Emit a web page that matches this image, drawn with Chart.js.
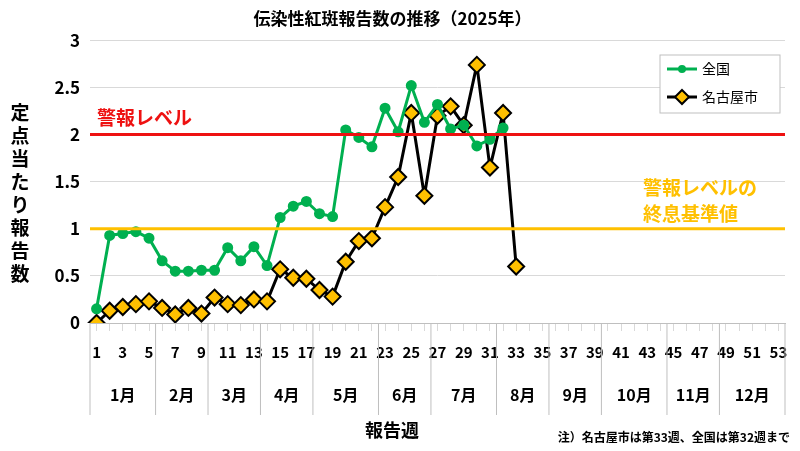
<!DOCTYPE html>
<html><head><meta charset="utf-8">
<script src="https://cdn.jsdelivr.net/npm/chart.js@4"></script>
<style>body{margin:0;background:#fff}#wrap{width:800px;height:451px}</style>
</head><body><div id="wrap"><canvas id="c"></canvas></div>
<script>
const weeks = Array.from({length: 53}, (_, i) => String(i + 1));
const national = [0.15,0.93,0.95,0.97,0.9,0.66,0.55,0.55,0.56,0.56,0.8,0.66,0.81,0.61,1.12,1.24,1.29,1.16,1.13,2.05,1.97,1.87,2.28,2.03,2.52,2.13,2.32,2.06,2.1,1.88,1.95,2.07];
const nagoya = [0,0.13,0.17,0.2,0.23,0.16,0.09,0.16,0.1,0.27,0.2,0.19,0.25,0.23,0.57,0.48,0.47,0.35,0.28,0.65,0.87,0.9,1.23,1.55,2.23,1.35,2.2,2.3,2.1,2.74,1.65,2.23,0.6];
const months = ["1月","2月","3月","4月","5月","6月","7月","8月","9月","10月","11月","12月"];
const monthEdges = [0.5,5.5,9.5,13.5,17.5,22.5,26.5,31.5,35.5,39.5,44.5,48.5,53.5];
const alarmLevel = 2, endLevel = 1;
const font = '"Noto Sans CJK JP", sans-serif';

const extras = {
  id: "extras",
  afterDatasetsDraw(chart) {
    const {ctx, chartArea: a, scales: {x, y}} = chart;
    ctx.save();
    // reference lines
    ctx.lineWidth = 3;
    ctx.strokeStyle = "#ee1111";
    ctx.beginPath(); ctx.moveTo(a.left, y.getPixelForValue(alarmLevel)); ctx.lineTo(a.right, y.getPixelForValue(alarmLevel)); ctx.stroke();
    ctx.strokeStyle = "#ffc000";
    ctx.beginPath(); ctx.moveTo(a.left, y.getPixelForValue(endLevel)); ctx.lineTo(a.right, y.getPixelForValue(endLevel)); ctx.stroke();
    ctx.font = "bold 19px " + font;
    ctx.fillStyle = "#ee1111"; ctx.textBaseline = "alphabetic";
    ctx.fillText("警報レベル", 97, 125);
    ctx.fillStyle = "#ffc000";
    ctx.fillText("警報レベルの", 643, 195);
    ctx.fillText("終息基準値", 643, 221);
    // legend
    ctx.fillStyle = "#fff"; ctx.fillRect(660, 55, 120, 58);
    ctx.strokeStyle = "#bfbfbf"; ctx.lineWidth = 1; ctx.strokeRect(660, 55, 120, 58);
    ctx.lineWidth = 3;
    ctx.strokeStyle = "#00b050"; ctx.beginPath(); ctx.moveTo(667, 69); ctx.lineTo(697, 69); ctx.stroke();
    ctx.fillStyle = "#00b050"; ctx.beginPath(); ctx.arc(682, 69, 4, 0, Math.PI * 2); ctx.fill();
    ctx.strokeStyle = "#000"; ctx.beginPath(); ctx.moveTo(667, 97); ctx.lineTo(697, 97); ctx.stroke();
    ctx.fillStyle = "#ffc000"; ctx.lineWidth = 2; ctx.beginPath();
    ctx.moveTo(682, 90); ctx.lineTo(689, 97); ctx.lineTo(682, 104); ctx.lineTo(675, 97); ctx.closePath(); ctx.fill(); ctx.stroke();
    ctx.fillStyle = "#000"; ctx.font = "14px " + font; ctx.textBaseline = "middle";
    ctx.fillText("全国", 702, 69); ctx.fillText("名古屋市", 702, 97);
    // month row
    const px = w => x.left + (w - 0.5) / 53 * (x.right - x.left);
    ctx.strokeStyle = "#bfbfbf"; ctx.lineWidth = 1;
    ctx.font = "bold 16px " + font; ctx.textAlign = "center";
    monthEdges.forEach(e => { ctx.beginPath(); ctx.moveTo(px(e), a.bottom); ctx.lineTo(px(e), 415); ctx.stroke(); });
    months.forEach((m, i) => ctx.fillText(m, (px(monthEdges[i]) + px(monthEdges[i + 1])) / 2, 395));
    ctx.font = "bold 18px " + font;
    ctx.fillText("報告週", 392, 430);
    ctx.font = "bold 12px " + font; ctx.textAlign = "right";
    ctx.fillText("注）名古屋市は第33週、全国は第32週まで", 790, 437);
    // y title stacked
    ctx.font = "bold 19px " + font; ctx.textAlign = "center";
    "定点当たり報告数".split("").forEach((ch, i) => ctx.fillText(ch, 20, 113 + i * 23));
    ctx.restore();
  }
};

new Chart(document.getElementById("c"), {
  type: "line",
  data: {
    labels: weeks,
    datasets: [
      {label: "全国", data: national, borderColor: "#00b050", backgroundColor: "#00b050", borderWidth: 3, pointRadius: 4, pointHoverRadius: 4, tension: 0},
      {label: "名古屋市", data: nagoya, borderColor: "#000", backgroundColor: "#ffc000", borderWidth: 3, pointStyle: "rectRot", pointRadius: 8, pointBorderWidth: 2, pointBorderColor: "#000", tension: 0}
    ]
  },
  plugins: [extras],
  options: {
    responsive: true, maintainAspectRatio: false, animation: false,
    layout: {padding: {left: 0, right: 15, top: 0, bottom: 0}},
    plugins: {
      title: {display: true, text: "伝染性紅斑報告数の推移（2025年）", color: "#000", font: {family: font, size: 17, weight: "bold"}, padding: {top: 8, bottom: 12}},
      legend: {display: false},
      tooltip: {enabled: false}
    },
    scales: {
      x: {
        offset: true,
        grid: {display: true, drawOnChartArea: false, tickLength: 8, color: "#d9d9d9"},
        border: {color: "#bfbfbf"},
        ticks: {color: "#000", autoSkip: false, maxRotation: 0, padding: 12, font: {family: font, size: 15, weight: "bold"},
          callback: (v, i) => i % 2 === 0 ? weeks[i] : ""},
        afterFit: s => { s.height = 128; }
      },
      y: {
        min: 0, max: 3,
        ticks: {stepSize: 0.5, color: "#000", padding: 10, font: {family: font, size: 17, weight: "bold"},
          callback: v => String(v)},
        grid: {color: "#d9d9d9", drawTicks: false},
        border: {display: false},
        afterFit: s => { s.width = 90; }
      }
    }
  }
});
</script></body></html>
